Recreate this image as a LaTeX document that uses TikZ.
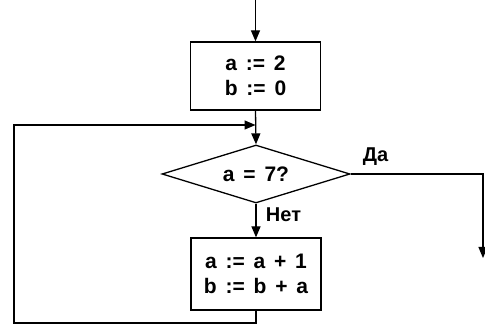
\documentclass[tikz,border=0pt]{standalone}
\usepackage{fontspec}
\setmainfont{Liberation Sans}
\usetikzlibrary{shapes.geometric,arrows.meta}
\newcommand{\gapsp}{\hspace{0.42em}}
\begin{document}
\begin{tikzpicture}[x=1pt,y=-1pt,
  line width=1.3pt,
  >={Triangle[length=11pt,width=9pt]},
  lbl/.style={font=\fontsize{20}{22}\selectfont\bfseries},
  procbox/.style={draw,rectangle,minimum width=130pt,align=center,inner sep=0pt,font=\fontsize{21}{25}\selectfont\bfseries},
  cond/.style={draw,diamond,minimum width=188pt,minimum height=58pt,aspect=3.2,inner sep=0pt,font=\fontsize{21}{22}\selectfont\bfseries}]
\useasboundingbox (0,0) rectangle (485,331);
\node[procbox,minimum height=68pt] (b1) at (255.5,76) {a\gapsp:=\gapsp2\\b\gapsp:=\gapsp0};
\node[cond] (d) at (256,174) {a\gapsp=\gapsp7?};
\node[procbox,minimum height=72pt] (b2) at (256,274) {a\gapsp:=\gapsp a\gapsp+\gapsp1\\b\gapsp:=\gapsp b\gapsp+\gapsp a};
\coordinate (top) at (255.5,0);
\coordinate (j) at (255.5,125);
\coordinate (loopbot) at (256,323);
\coordinate (loopleft) at (14,323);
\coordinate (yesr) at (483,174);
\coordinate (yesend) at (483,258);
\draw[->] (top) -- (b1.north);
\draw[->] (b1.south) -- (d.north);
\draw[->] (d.south) -- (b2.north);
\draw[->] (b2.south) -- (loopbot) -- (loopleft) |- (j);
\draw[->] (d.east) -- (yesr) -- (yesend);
\node[lbl,anchor=south west] (da) at (359,169) {Да};
\node[lbl,anchor=west] (net) at (262,215) {Нет};
\end{tikzpicture}
\end{document}
